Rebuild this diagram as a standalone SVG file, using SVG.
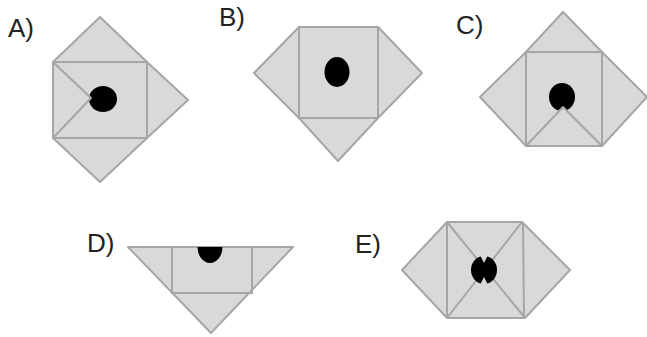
<svg xmlns="http://www.w3.org/2000/svg" width="647" height="337" viewBox="0 0 647 337">
<style>
.p{fill:#d9d9d9;stroke:#a6a6a6;stroke-width:2;stroke-linejoin:round}
.l{fill:none;stroke:#a6a6a6;stroke-width:2}
.d{fill:#000}
.w{fill:#d9d9d9}
.t{font-family:"Liberation Sans",Arial,sans-serif;font-size:26px;fill:#222}
</style>
<rect width="647" height="337" fill="#fff"/>
<g id="A">
<text class="t" x="8" y="37">A)</text>
<polygon class="p" points="53,62 100,17 147,62"/>
<polygon class="p" points="147,62 188,100 147,138"/>
<polygon class="p" points="53,138 100,182 147,138"/>
<rect class="p" x="53" y="62" width="94" height="76"/>
<ellipse class="d" cx="103" cy="99" rx="14" ry="13"/>
<polygon class="p" points="53,62 91,98 53,138"/>
</g>
<g id="B">
<text class="t" x="219" y="26">B)</text>
<polygon class="p" points="299,27 254,73 299,118"/>
<polygon class="p" points="378,27 422,73 378,118"/>
<polygon class="p" points="299,118 338,161 378,118"/>
<rect class="p" x="299" y="27" width="79" height="91"/>
<ellipse class="d" cx="337" cy="72" rx="12.5" ry="15"/>
</g>
<g id="C">
<text class="t" x="456" y="34">C)</text>
<polygon class="p" points="526,52 563,12 602,52"/>
<polygon class="p" points="526,52 480,97 526,146"/>
<polygon class="p" points="602,52 647,97 602,146"/>
<rect class="p" x="526" y="52" width="76" height="94"/>
<ellipse class="d" cx="562" cy="97" rx="13" ry="14"/>
<polygon class="p" points="526,146 563,107 602,146"/>
</g>
<g id="D">
<text class="t" x="87" y="252">D)</text>
<polygon class="p" points="128,247 293,247 211,333"/>
<polyline class="l" points="172,247 172,293 252,293 252,247"/>
<path class="d" d="M197.5,247 A12.5,16 0 0 0 222.5,247 Z"/>
</g>
<g id="E">
<text class="t" x="355" y="253">E)</text>
<polygon class="p" points="447,222 522,222 570,270 525,318 447,318 402,270"/>
<line class="l" x1="447" y1="222" x2="447" y2="318"/>
<line class="l" x1="523" y1="222" x2="524" y2="318"/>
<line class="l" x1="447" y1="222" x2="525" y2="318"/>
<line class="l" x1="522" y1="222" x2="447" y2="318"/>
<ellipse class="d" cx="484" cy="270" rx="13" ry="14"/>
<polygon class="w" points="480,255 488,255 484,263"/>
<polygon class="w" points="480,285 488,285 484,277"/>
</g>
</svg>
